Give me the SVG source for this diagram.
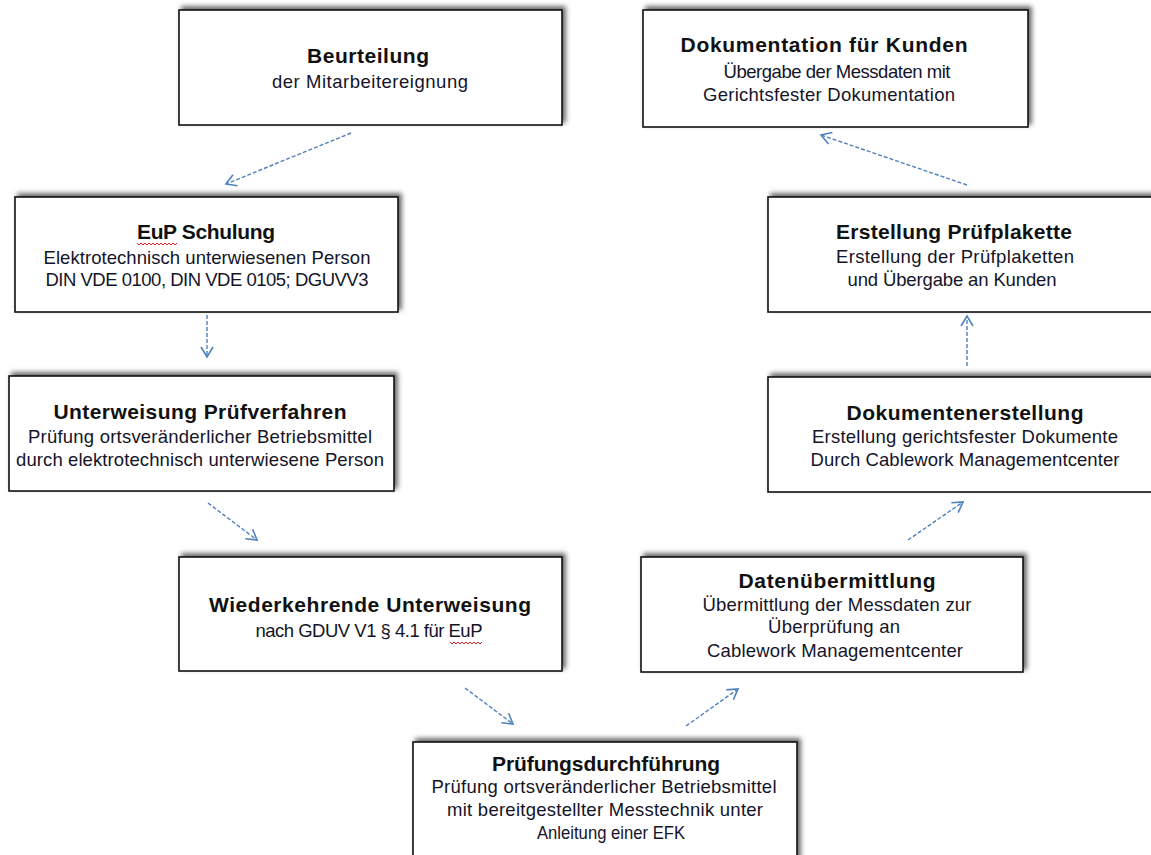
<svg xmlns="http://www.w3.org/2000/svg" width="1151" height="855" viewBox="0 0 1151 855">
<style>
.box{fill:#fff;stroke:#111;stroke-width:1.6;filter:url(#sh)}
.t{font-family:"Liberation Sans",Arial,sans-serif;font-weight:bold;font-size:21px;fill:#111;text-anchor:middle}
.b{font-family:"Liberation Sans",Arial,sans-serif;font-size:18.5px;fill:#141428;text-anchor:middle}
.c{fill:none;stroke:#4f81bd;stroke-width:1.4;stroke-dasharray:4 2;marker-end:url(#ah)}
.sq{fill:none;stroke:#e02020;stroke-width:1}
</style>
<defs>
<filter id="sh" x="-5%" y="-15%" width="115%" height="130%">
<feDropShadow dx="3" dy="-3" stdDeviation="2.5" flood-color="#000" flood-opacity="0.6"/>
</filter>
<marker id="ah" markerUnits="userSpaceOnUse" markerWidth="14" markerHeight="14" viewBox="0 0 14 14" refX="12" refY="7" orient="auto">
<path d="M2,1 L12,7 L2,13" fill="none" stroke="#4f81bd" stroke-width="1.6"/>
</marker>
</defs>
<rect width="1151" height="855" fill="#fff"/>

<g id="connectors">
<path class="c" d="M351,133 L226,184"/>
<path class="c" d="M207,315 L207,357"/>
<path class="c" d="M208,503 L257,540"/>
<path class="c" d="M465,688 L513,724"/>
<path class="c" d="M686,726 L738,689"/>
<path class="c" d="M908,540 L963,502"/>
<path class="c" d="M967,366 L967,316"/>
<path class="c" d="M967,185 L821,135"/>
</g>

<g id="beurteilung">
<rect class="box" x="179" y="10" width="383" height="115"/>
<text class="t" x="368" y="63" textLength="122">Beurteilung</text>
<text class="b" x="370" y="88" textLength="196">der Mitarbeitereignung</text>
</g>

<g id="dokumentation-kunden">
<rect class="box" x="643" y="10" width="385" height="117"/>
<text class="t" x="824" y="52" textLength="287">Dokumentation für Kunden</text>
<text class="b" x="837" y="78" textLength="227">Übergabe der Messdaten mit</text>
<text class="b" x="829" y="101" textLength="252">Gerichtsfester Dokumentation</text>
</g>

<g id="eup-schulung">
<rect class="box" x="15" y="197" width="383" height="115"/>
<text class="t" x="206" y="239" textLength="138">EuP Schulung</text>
<path class="sq" d="M137,243 l2,2 l2,-2 l2,2 l2,-2 l2,2 l2,-2 l2,2 l2,-2 l2,2 l2,-2 l2,2 l2,-2 l2,2 l2,-2 l2,2 l2,-2 l2,2 l2,-2 l2,2 l2,-2"/>
<text class="b" x="207" y="264" textLength="327">Elektrotechnisch unterwiesenen Person</text>
<text class="b" x="207" y="286" textLength="323">DIN VDE 0100, DIN VDE 0105; DGUVV3</text>
</g>

<g id="erstellung-pruefplakette">
<rect class="box" x="768" y="197" width="400" height="115"/>
<text class="t" x="954" y="239" textLength="236">Erstellung Prüfplakette</text>
<text class="b" x="955" y="263" textLength="238">Erstellung  der Prüfplaketten</text>
<text class="b" x="952" y="286" textLength="209">und Übergabe an Kunden</text>
</g>

<g id="unterweisung-pruefverfahren">
<rect class="box" x="9" y="376" width="385" height="115"/>
<text class="t" x="200" y="419" textLength="293">Unterweisung Prüfverfahren</text>
<text class="b" x="200" y="443" textLength="344">Prüfung ortsveränderlicher Betriebsmittel</text>
<text class="b" x="200" y="466" textLength="368">durch elektrotechnisch unterwiesene Person</text>
</g>

<g id="dokumentenerstellung">
<rect class="box" x="768" y="377" width="400" height="115"/>
<text class="t" x="965" y="420" textLength="237">Dokumentenerstellung</text>
<text class="b" x="965" y="443" textLength="306">Erstellung gerichtsfester Dokumente</text>
<text class="b" x="965" y="466" textLength="309">Durch Cablework Managementcenter</text>
</g>

<g id="wiederkehrende-unterweisung">
<rect class="box" x="179" y="557" width="383" height="114"/>
<text class="t" x="370" y="612" textLength="322">Wiederkehrende Unterweisung</text>
<text class="b" x="369" y="637" textLength="227">nach GDUV V1 § 4.1 für EuP</text>
<path class="sq" d="M450,642 l2,2 l2,-2 l2,2 l2,-2 l2,2 l2,-2 l2,2 l2,-2 l2,2 l2,-2 l2,2 l2,-2 l2,2 l2,-2 l2,2 l2,-2"/>
</g>

<g id="datenuebermittlung">
<rect class="box" x="641" y="557" width="382" height="115"/>
<text class="t" x="837" y="588" textLength="197">Datenübermittlung</text>
<text class="b" x="837" y="611" textLength="269">Übermittlung der Messdaten zur</text>
<text class="b" x="834" y="633" textLength="132">Überprüfung an</text>
<text class="b" x="835" y="657" textLength="256">Cablework Managementcenter</text>
</g>

<g id="pruefungsdurchfuehrung">
<rect class="box" x="413" y="742" width="384" height="130"/>
<text class="t" x="606" y="771" textLength="228">Prüfungsdurchführung</text>
<text class="b" x="604" y="793" textLength="345">Prüfung ortsveränderlicher Betriebsmittel</text>
<text class="b" x="605" y="816" textLength="316">mit bereitgestellter Messtechnik unter</text>
<text class="b" x="611" y="839" textLength="148" lengthAdjust="spacingAndGlyphs">Anleitung einer EFK</text>
</g>
</svg>
